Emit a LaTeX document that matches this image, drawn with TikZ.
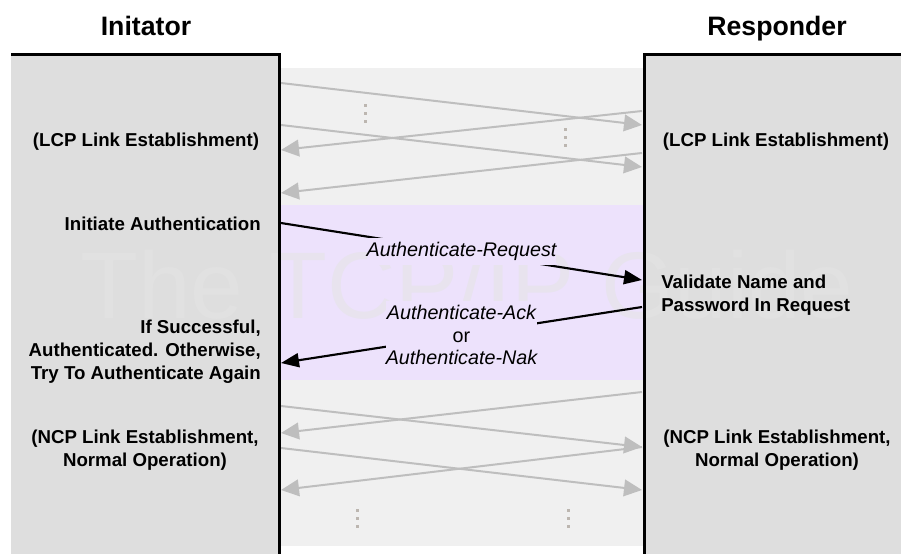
\documentclass[tikz,border=0pt]{standalone}
\usepackage{fontspec}
\setmainfont{Liberation Sans}
\usetikzlibrary{arrows.meta}

\definecolor{boxgray}{RGB}{222,222,222}
\definecolor{midgray}{RGB}{240,240,240}
\definecolor{band}{RGB}{237,226,252}
\definecolor{arrowgray}{RGB}{190,190,190}
\definecolor{dotgray}{RGB}{188,182,176}
\definecolor{mark}{RGB}{228,228,228}

\tikzset{
  lane/.style={fill=boxgray, draw=none},
  border/.style={draw=black, line width=2.25pt},
  heading/.style={font=\fontsize{20}{24}\selectfont\bfseries, inner sep=0pt},
  note/.style={font=\fontsize{14}{17.25}\selectfont\bfseries, inner sep=0pt},
  msglabel/.style={font=\fontsize{14.8}{17}\selectfont\itshape, fill=band,
    inner xsep=0pt, inner ysep=3pt, align=center},
  faint/.style={draw=arrowgray, line width=1.5pt,
    -{Triangle[length=13.5pt,width=12.5pt]}},
  msg/.style={draw=black, line width=1.6pt,
    -{Triangle[length=13.5pt,width=10.5pt]}},
  vdots/.style={fill=dotgray},
}

\begin{document}
\begin{tikzpicture}[x=0.75pt,y=-0.75pt]
\useasboundingbox (0,0) rectangle (901,554);

% lifeline boxes and the space between them
\fill[lane] (11,54) rectangle (279.5,554);
\fill[lane] (644,54) rectangle (901,554);
\fill[midgray] (279.5,68) rectangle (644,546);
\fill[band] (279.5,205) rectangle (644,380);

% faint watermark
\node[anchor=base west, inner sep=0pt, text=mark, text opacity=0.55,
      font=\fontsize{71}{71}\selectfont] (wm) at (80,318) {The TCP/IP Guide};

% headings
\node[heading, anchor=base] (ini) at (146,35) {Initator};
\node[heading, anchor=base] (res) at (777,35) {Responder};

% end points on the two lifelines
\coordinate (a1) at (281,83);   \coordinate (b1) at (642,125);
\coordinate (a2) at (281,125);  \coordinate (b2) at (642,167);
\coordinate (b3) at (642,111);  \coordinate (a3) at (281,150);
\coordinate (b4) at (642,153);  \coordinate (a4) at (281,193);

\coordinate (c1) at (281,223);  \coordinate (d1) at (642,280);
\coordinate (d2) at (642,307);  \coordinate (c2) at (281,363);

\coordinate (e1) at (642,392);  \coordinate (f1) at (281,433);
\coordinate (f2) at (281,406);  \coordinate (e2) at (642,447);
\coordinate (f3) at (281,448);  \coordinate (e3) at (642,490);
\coordinate (e4) at (642,447);  \coordinate (f4) at (281,490);

% LCP exchange
\draw[faint] (a1) -- (b1);
\draw[faint] (a2) -- (b2);
\draw[faint] (b3) -- (a3);
\draw[faint] (b4) -- (a4);

% NCP exchange
\draw[faint] (e1) -- (f1);
\draw[faint] (f2) -- (e2);
\draw[faint] (f3) -- (e3);
\draw[faint] (e4) -- (f4);

% continuation dots
\foreach \x/\y in {365/105, 565/129, 357/510, 568/510} {
  \foreach \k in {0,1,2}
    \fill[vdots] (\x-1.5,\y+8*\k-1.5) rectangle (\x+1.5,\y+8*\k+1.5);
}

% PAP authentication
\draw[msg] (c1) -- node[msglabel] (req) {Authenticate-Request} (d1);
\draw[msg] (d2) -- node[msglabel] (ack)
  {Authenticate-Ack\\{\upshape or}\\Authenticate-Nak} (c2);

% lifeline texts
\node[note, anchor=base] (lcpL) at (146,146) {(LCP Link Establishment)};
\node[note, anchor=base] (lcpR) at (776,146) {(LCP Link Establishment)};
\node[note, anchor=base east] (init) at (261,230) {Initiate Authentication};
\node[note, anchor=north east, align=right] (succ) at (261,320)
  {If Successful,\\Authenticated. Otherwise,\\Try To Authenticate Again};
\node[note, anchor=north west, align=left] (valid) at (661,275)
  {Validate Name and\\Password In Request};
\node[note, anchor=north, align=center] (ncpL) at (145,430)
  {(NCP Link Establishment,\\Normal Operation)};
\node[note, anchor=north, align=center] (ncpR) at (777,430)
  {(NCP Link Establishment,\\Normal Operation)};

% box borders
\draw[border] (11,54) -- (279.5,54) -- (279.5,554);
\draw[border] (901,54) -- (644,54) -- (644,554);
\end{tikzpicture}
\end{document}
